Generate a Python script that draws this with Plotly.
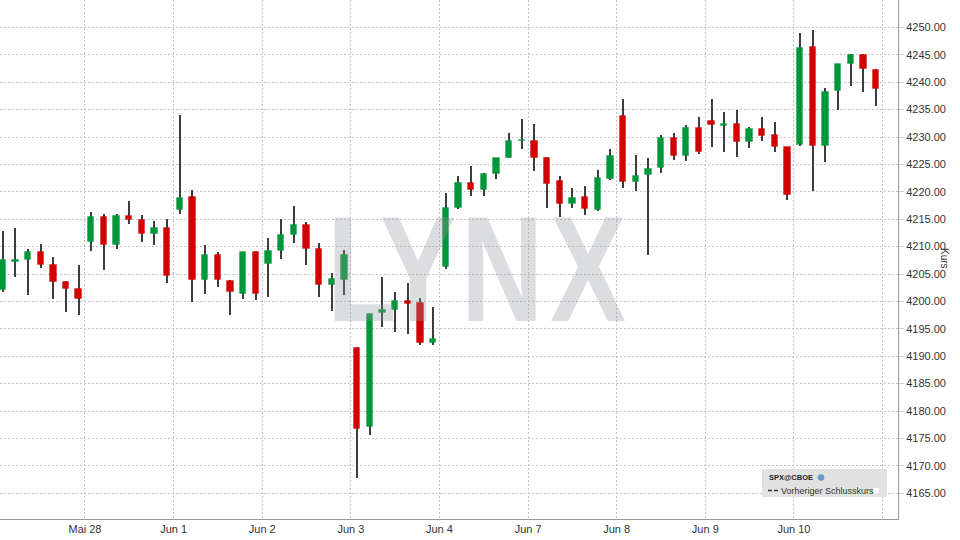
import plotly.graph_objects as go

# ---------------- data (hourly candles, 7 per trading day) ----------------
day_labels = ["Mai 27", "Mai 28", "Jun 1", "Jun 2", "Jun 3", "Jun 4",
              "Jun 7", "Jun 8", "Jun 9", "Jun 10", "Jun 11"]
candles_per_day = 7

opens = [4202.0, 4207.2, 4207.5, 4209.1, 4206.7, 4203.5, 4202.2,
         4210.9, 4215.4, 4210.3, 4215.6, 4214.8, 4212.3, 4213.4,
         4216.7, 4219.1, 4203.9, 4208.5, 4203.8, 4201.4, 4209.1,
         4206.8, 4209.2, 4212.2, 4213.9, 4209.6, 4203.0, 4204.0,
         4191.5, 4177.0, 4197.9, 4198.5, 4200.0, 4199.7, 4192.5,
         4206.2, 4217.1, 4221.7, 4220.4, 4223.2, 4226.2, 4229.2,
         4229.2, 4226.2, 4221.9, 4217.8, 4219.0, 4216.6, 4222.4,
         4233.8, 4221.8, 4223.1, 4224.4, 4229.9, 4226.6, 4231.6,
         4233.0, 4232.1, 4232.4, 4229.0, 4231.4, 4230.4, 4228.1,
         4228.5, 4246.4, 4228.4, 4238.4, 4243.3, 4245.0, 4242.3]
highs = [4212.8, 4213.4, 4209.5, 4210.4, 4208.1, 4203.7, 4206.7,
         4216.4, 4216.0, 4216.0, 4218.4, 4215.7, 4214.6, 4215.1,
         4234.1, 4220.4, 4210.3, 4209.0, 4203.9, 4209.1, 4209.2,
         4211.6, 4215.1, 4217.5, 4214.5, 4210.6, 4205.2, 4209.3,
         4191.6, 4197.7, 4204.4, 4201.8, 4203.4, 4200.7, 4198.9,
         4219.7, 4222.8, 4224.7, 4223.4, 4226.2, 4230.8, 4233.2,
         4232.3, 4226.4, 4222.8, 4220.7, 4221.0, 4223.9, 4227.9,
         4236.9, 4226.7, 4226.2, 4230.4, 4230.7, 4232.2, 4233.7,
         4237.0, 4234.5, 4234.9, 4231.8, 4233.6, 4232.7, 4228.2,
         4249.0, 4249.6, 4238.9, 4243.3, 4245.1, 4245.1, 4242.4]
lows = [4201.8, 4204.4, 4201.1, 4206.1, 4200.5, 4198.1, 4197.6,
        4209.2, 4205.8, 4209.5, 4214.2, 4210.9, 4210.3, 4203.4,
        4216.0, 4199.9, 4201.3, 4202.6, 4197.6, 4200.4, 4200.2,
        4200.8, 4207.7, 4210.6, 4206.7, 4200.8, 4198.2, 4201.1,
        4167.7, 4175.7, 4195.3, 4194.4, 4194.0, 4192.1, 4192.1,
        4206.0, 4216.8, 4219.2, 4219.2, 4222.3, 4226.1, 4227.9,
        4223.8, 4217.1, 4215.4, 4217.1, 4215.8, 4216.5, 4222.1,
        4220.7, 4220.2, 4208.4, 4223.5, 4225.8, 4225.7, 4226.9,
        4228.2, 4227.3, 4226.4, 4228.0, 4229.3, 4227.3, 4218.5,
        4228.4, 4220.2, 4225.5, 4235.0, 4239.3, 4238.3, 4235.6]
closes = [4207.6, 4207.5, 4209.0, 4206.7, 4203.5, 4202.2, 4200.4,
          4215.4, 4210.3, 4215.6, 4214.8, 4212.3, 4213.4, 4204.6,
          4218.9, 4203.9, 4208.5, 4203.9, 4201.7, 4209.1, 4201.4,
          4209.2, 4212.2, 4213.9, 4209.6, 4203.0, 4204.1, 4208.4,
          4176.8, 4197.7, 4198.4, 4200.0, 4199.6, 4192.5, 4193.1,
          4217.1, 4221.7, 4220.3, 4223.3, 4226.1, 4229.2, 4229.4,
          4226.2, 4221.5, 4217.8, 4218.9, 4216.9, 4222.6, 4226.5,
          4221.8, 4222.9, 4224.2, 4229.9, 4226.6, 4231.6, 4227.3,
          4232.2, 4232.4, 4229.0, 4231.4, 4230.2, 4228.2, 4219.5,
          4246.2, 4228.4, 4238.2, 4243.3, 4245.0, 4242.5, 4238.7]

y_ticks = [4165 + 5 * i for i in range(18)]

# ---------------- derived ----------------
n = len(opens)
xs = list(range(n))
up = [c >= o for o, c in zip(opens, closes)]
GREEN = "#00963a"
RED = "#d20000"
body_colors = [GREEN if u else RED for u in up]
halo_colors = ["rgba(0,150,58,0.35)" if u else "rgba(210,0,0,0.35)" for u in up]
body_base = [min(o, c) for o, c in zip(opens, closes)]
body_len = [max(abs(c - o), 0.2) for o, c in zip(opens, closes)]

fig = go.Figure()

# wicks
fig.add_trace(go.Bar(
    x=xs, base=lows, y=[h - l for h, l in zip(highs, lows)],
    width=0.1, marker=dict(color="#3d3d3d", line=dict(width=0)),
    hoverinfo="skip", showlegend=False))

# bodies
fig.add_trace(go.Bar(
    x=xs, base=body_base, y=body_len, width=0.5,
    marker=dict(color=body_colors, line=dict(color=halo_colors, width=1)),
    customdata=list(zip(opens, highs, lows, closes)),
    hovertemplate="O %{customdata[0]}<br>H %{customdata[1]}<br>"
                  "L %{customdata[2]}<br>C %{customdata[3]}<extra></extra>",
    showlegend=False))

# day boundaries for ticks
tick_vals = [d * candles_per_day - 0.5 for d in range(1, len(day_labels))]
tick_text = day_labels[1:-1] + [""]

PLOT_W = 898.0
PLOT_H = 519.0


def px(x):
    return x / PLOT_W


def py(y):
    return (PLOT_H - y) / PLOT_H


FONT = "Liberation Sans, Arial, sans-serif"
GRID = "#c4c4c4"

fig.update_layout(
    width=960, height=540,
    margin=dict(l=0, r=62, t=0, b=21),
    paper_bgcolor="white", plot_bgcolor="white",
    barmode="overlay", bargap=0,
    showlegend=False,
    font=dict(family=FONT, size=11, color="#333333"),
    xaxis=dict(
        range=[-0.213, 70.72], tickmode="array",
        tickvals=tick_vals, ticktext=tick_text,
        showgrid=True, gridcolor=GRID, griddash="2px,2px", gridwidth=1,
        showline=True, linecolor="#9a9a9a", linewidth=1,
        zeroline=False, ticks="", fixedrange=True,
        tickfont=dict(size=11, color="#333333", family=FONT)),
    yaxis=dict(
        side="right", range=[4160.3, 4255.0],
        tickmode="array", tickvals=y_ticks,
        ticktext=[f"{v:.2f}" for v in y_ticks],
        showgrid=True, gridcolor=GRID, griddash="2px,2px", gridwidth=1,
        showline=True, linecolor="#9a9a9a", linewidth=1,
        zeroline=False, ticks="outside", ticklen=5, tickcolor="#d0d0d0",
        tickfont=dict(size=11, color="#333333", family=FONT)),
)

annotations = []
# watermark letters
wm_font = dict(family="Liberation Sans, Arial, sans-serif",
               size=150, color="rgba(150,152,160,0.33)")
for letter, cx in [("L", 362), ("Y", 418), ("N", 502), ("X", 588)]:
    annotations.append(dict(
        text=f"<b>{letter}</b>", xref="paper", yref="paper",
        x=px(cx), y=py(269), xanchor="center", yanchor="middle",
        showarrow=False, font=wm_font))

# axis title
annotations.append(dict(
    text="Kurs", xref="paper", yref="paper", x=px(945), y=py(258),
    xanchor="center", yanchor="middle", textangle=90, showarrow=False,
    font=dict(size=10, color="#333333", family=FONT)))

# legend box texts
annotations.append(dict(
    text="<b>SPX@CBOE</b>", xref="paper", yref="paper", x=px(767), y=py(477.5),
    xanchor="left", yanchor="middle", showarrow=False,
    font=dict(size=7.5, color="#222222", family=FONT)))
annotations.append(dict(
    text="Vorheriger Schlusskurs", xref="paper", yref="paper", x=px(779), y=py(490.5),
    xanchor="left", yanchor="middle", showarrow=False,
    font=dict(size=9, color="#333333", family=FONT)))

shapes = [
    dict(type="rect", xref="paper", yref="paper",
         x0=px(762), x1=px(887), y0=py(497), y1=py(469),
         fillcolor="#e2e2e2", line=dict(width=0), layer="above"),
    dict(type="circle", xref="paper", yref="paper",
         x0=px(818), x1=px(824), y0=py(480.5), y1=py(474.5),
         fillcolor="#6d9bd6", line=dict(color="#4a7cc0", width=0.5), layer="above"),
    dict(type="line", xref="paper", yref="paper",
         x0=px(768), x1=px(778), y0=py(490.5), y1=py(490.5),
         line=dict(color="#333333", width=1.5, dash="4px,2px"), layer="above"),
    dict(type="rect", xref="paper", yref="paper",
         x0=px(873), x1=px(879), y0=py(493.5), y1=py(487.5),
         fillcolor="white", line=dict(color="#d8d8d8", width=0.5), layer="above"),
]

fig.update_layout(annotations=annotations, shapes=shapes)

post_js = """
document.body.style.margin = '0';
document.body.style.padding = '0';
var gd = document.getElementById('{plot_id}');
function squeezeWatermark() {
  gd.querySelectorAll('g.annotation text').forEach(function (t) {
    var s = (t.textContent || '').trim();
    if (['L', 'Y', 'N', 'X'].indexOf(s) >= 0) {
      t.style.transformBox = 'fill-box';
      t.style.transformOrigin = 'center';
      t.style.transform = 'scaleX(0.76)';
    }
  });
}
squeezeWatermark();
gd.on && gd.on('plotly_afterplot', squeezeWatermark);
"""

fig.write_html("out.html", post_script=post_js,
               config={"displayModeBar": False})
